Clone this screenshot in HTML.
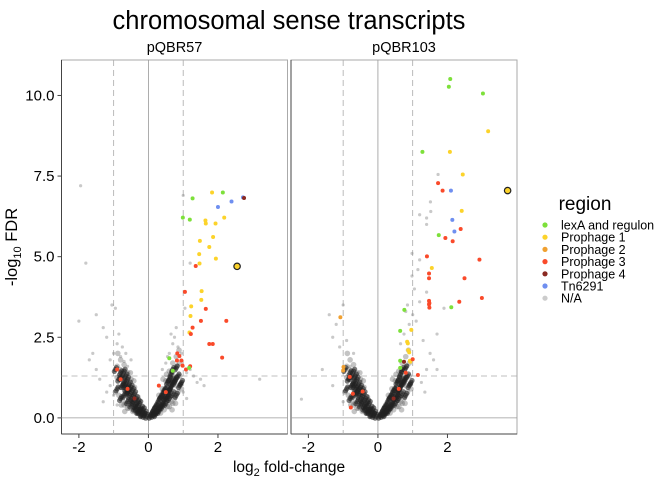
<!DOCTYPE html>
<html><head><meta charset="utf-8"><style>
body{margin:0;background:#fff;}
svg text{font-family:"Liberation Sans",Arial,sans-serif;}
</style></head><body>
<svg id="chart" width="672" height="480" xmlns="http://www.w3.org/2000/svg">
<text x="289" y="29" font-size="25.5" text-anchor="middle" fill="#000">chromosomal sense transcripts</text>
<text x="289" y="472" font-size="15.5" text-anchor="middle">log<tspan font-size="11" dy="4">2</tspan><tspan dy="-4"> fold-change</tspan></text>
<text transform="translate(17,247) rotate(-90)" font-size="16.5" text-anchor="middle">-log<tspan font-size="11" dy="4">10</tspan><tspan dy="-4"> FDR</tspan></text>
<g id="panels"></g>
<g id="legend">
<text x="585" y="210" font-size="19" text-anchor="middle">region</text>
</g>
</svg>
<script>
const categories = ["lexA and regulon","Prophage 1","Prophage 2","Prophage 3","Prophage 4","Tn6291","N/A"];
const catColors = ["#7de03a","#fcd32a","#f0a030","#fa4a2a","#8b2a22","#6f8ff0","#cccccc"];
const panelNames = ["pQBR57","pQBR103"];
const xTicks = [-2,0,2];
const yTicks = [0,2.5,5,7.5,10];
const yTickLabels = ["0.0","2.5","5.0","7.5","10.0"];
// core cloud (x,y) shared
const coreX = [-0.05,0.05,-0.1,0.1,-0.15,0.15,-0.2,0.2,-0.25,0.25,-0.3,0.3,-0.35,0.35,-0.4,0.4,-0.45,0.45,-0.5,0.5,-0.55,0.55,-0.6,0.6,-0.65,0.65,-0.7,0.7,-0.2,0.2,-0.3,0.3,-0.4,0.4,-0.5,0.5,-0.6,0.6,-0.7,0.7,-0.45,0.45,-0.55,0.55,-0.65,0.65,-0.75,0.75,-0.8,0.8,-0.85,0.85,-0.9,0.9,-0.35,0.35,-0.25,0.25,-0.6,0.6,-0.7,0.7,-0.8,0.8,-0.95,0.95,-0.12,0.12,-0.18,0.18,-0.28,0.28,-0.38,0.38,-0.48,0.48,-0.58,0.58,-0.68,0.68,-0.78,0.78];
const coreY = [0.05,0.05,0.15,0.15,0.25,0.25,0.3,0.35,0.45,0.4,0.5,0.55,0.6,0.65,0.75,0.7,0.85,0.85,0.95,0.9,1.05,1.1,1.2,1.2,1.3,1.35,1.45,1.5,0.1,0.1,0.2,0.2,0.3,0.35,0.4,0.45,0.5,0.6,0.7,0.75,0.5,0.55,0.7,0.65,0.9,0.95,1.0,1.1,0.6,0.7,1.2,1.3,0.9,1.0,0.3,0.35,0.2,0.2,0.8,0.85,1.1,1.15,1.4,1.55,1.5,1.1,0.08,0.08,0.12,0.14,0.22,0.26,0.38,0.4,0.6,0.62,0.85,0.8,1.0,1.05,1.25,1.2];
const fillX = [-0.3,0.3,-0.4,0.4,-0.5,0.5,-0.6,0.6,-0.7,0.7,-0.8,0.8,-0.9,0.9,-0.55,0.55,-0.65,0.65,-0.75,0.75,-0.85,0.85,-0.45,0.45,-0.35,0.35,-0.5,0.5,-0.6,0.6,-0.7,0.7,-0.8,0.8,-0.9,0.9,-0.95,0.95,-0.62,0.62,-0.72,0.72,-0.82,0.82,-0.52,0.52,-0.42,0.42,-0.88,0.88,-0.78,0.78,-0.68,0.68];
const fillY = [0.65,0.7,0.95,0.9,1.2,1.15,1.4,1.45,1.65,1.7,1.8,1.9,1.6,1.7,0.3,0.35,0.45,0.5,0.55,0.6,0.7,0.8,0.2,0.25,0.15,0.15,0.7,0.65,0.3,0.35,0.4,0.45,0.95,1.0,1.25,1.3,0.8,0.9,1.0,1.05,1.25,1.3,1.5,1.6,1.4,1.35,1.15,1.2,2.0,2.1,0.4,0.45,0.2,0.25];
const gray1X = [-1.0,-0.9,-1.1,-0.8,-0.75,-1.2,-0.7,-1.05,-0.95,-1.3,-1.5,-1.4,-1.6,-0.85,-0.6,-1.1,-1.2,-0.9,-1.0,-1.8,-2.0,-1.7,-1.95,-1.3,-1.5,0.7,0.75,0.6,0.8,0.85,0.9,0.55,0.65,0.95,1.0,1.1,1.2,1.3,1.4,1.5,1.6,1.0,1.1,3.2,1.0,1.2,1.05,0.5,0.4,-0.5,-0.65];
const gray1Y = [2.0,2.3,1.8,1.9,2.2,2.5,1.75,3.5,3.4,2.8,1.5,1.2,2.0,2.6,1.6,1.0,0.8,0.4,0.7,4.8,3.0,1.8,7.2,0.5,3.2,2.3,2.5,2.0,2.8,2.2,1.9,1.9,2.6,2.0,1.6,1.4,1.5,1.3,1.1,1.2,1.0,0.8,0.6,1.2,6.9,4.8,3.4,1.7,1.5,1.8,2.0];
const gray2X = [-1.3,-1.0,-1.4,-1.2,-0.9,-0.7,-2.2,-1.6,-1.3,-1.1,-0.8,-1.0,0.85,1.1,1.2,0.9,1.3,1.5,1.6,1.4,1.25,1.35,1.7,1.05,1.51,1.4,1.52,1.2,1.4,1.73,0.98,1.2,0.98,1.15,1.4,0.8,1.0,0.75,0.65,1.7,1.9];
const gray2Y = [2.5,3.5,3.2,2.9,2.4,2.0,0.58,1.5,1.0,2.2,1.6,0.5,3.5,3.0,3.6,2.9,2.4,2.0,1.8,1.5,1.1,0.8,1.5,4.0,6.7,6.2,6.4,6.3,6.0,7.55,5.1,4.9,4.4,4.6,3.9,3.3,3.2,2.6,2.3,2.6,3.4];
// colored points: x, y, category index
const col1X = [1.27,1.83,2.14,2.72,2.75,2.39,2.0,0.99,1.19,1.64,1.65,1.93,2.18,1.86,1.48,1.75,1.46,1.94,1.47,1.36,1.05,1.53,1.52,1.23,1.65,1.21,1.51,2.24,1.27,1.18,1.22,1.75,1.85,2.12,0.83,0.89,0.82,0.95,0.6,0.98,1.08,1.2,1.17,0.7,-0.8,-0.6,-0.4,0.5,0.3,-0.9];
const col1Y = [6.81,6.99,6.99,6.84,6.82,6.71,6.54,6.21,6.15,6.12,6.03,6.03,6.21,5.61,5.49,5.3,5.08,4.94,4.79,4.71,3.91,3.93,3.66,3.46,3.38,3.16,3.01,3.01,2.8,2.65,2.6,2.29,2.29,1.87,2.0,1.92,1.78,1.78,1.85,1.62,1.5,1.6,1.55,1.46,1.2,0.9,0.6,0.8,1.0,1.5];
const col1C = [0,1,0,5,4,5,5,0,0,1,1,1,1,1,1,1,1,1,1,3,3,1,1,1,3,1,3,3,3,1,3,3,3,3,3,3,3,3,0,3,3,3,0,0,3,3,4,3,3,3];
const col2X = [2.08,2.04,3.02,3.17,1.28,2.07,2.44,1.73,1.86,2.1,2.41,2.14,2.38,2.2,1.75,1.94,2.15,1.41,2.92,1.55,1.47,1.47,2.49,2.99,1.47,1.48,2.34,2.11,0.76,-1.08,-0.99,-1.0,1.47,1.48,0.64,0.96,0.84,0.86,0.87,0.9,0.92,0.93,0.64,0.64,0.75,1.0,1.15,-0.81,-0.44,-0.78,-0.72,0.6,0.45,0.8];
const col2Y = [10.51,10.27,10.06,8.89,8.25,8.25,7.55,7.28,7.05,7.05,6.42,6.14,5.86,5.78,5.67,5.58,5.48,5.01,4.91,4.65,4.48,4.33,4.33,3.72,3.52,3.42,3.6,3.43,3.35,3.12,1.58,1.47,3.63,3.56,2.7,2.73,2.36,2.31,2.1,2.03,1.77,1.74,1.77,1.55,1.74,1.82,1.33,1.27,0.82,0.32,0.75,0.9,0.6,1.4];
const col2C = [0,0,0,1,0,1,1,3,3,5,1,5,3,5,0,3,3,3,3,1,3,3,3,3,3,3,3,0,0,2,2,2,3,3,0,1,1,1,1,1,1,1,0,0,4,3,3,3,3,3,3,3,4,3];
const circled = [[2.55,4.70],[3.73,7.05]];

const NS="http://www.w3.org/2000/svg";
const svgP=document.getElementById('panels');
const panelLeft=[61.5,291], panelW=226, pTop=60, pBottom=434;
const xMin=-2.5, xMax=4.0, yMin=-0.5, yMax=11.1;
function mk(tag,attrs,parent){const e=document.createElementNS(NS,tag);for(const k in attrs)e.setAttribute(k,attrs[k]);parent.appendChild(e);return e;}
const grays=[[gray1X,gray1Y],[gray2X,gray2Y]];
const cols=[[col1X,col1Y,col1C],[col2X,col2Y,col2C]];
panelNames.forEach((name,p)=>{
  const L=panelLeft[p];
  const sx=v=>L+(v-xMin)/(xMax-xMin)*panelW;
  const sy=v=>pBottom-(v-yMin)/(yMax-yMin)*(pBottom-pTop);
  const g=mk('g',{},svgP);
  
  
  const strip=mk('text',{x:L+panelW/2,y:52,'font-size':14.5,'text-anchor':'middle'},g);
  strip.textContent=name;
  
  
  const box=mk('rect',{x:L,y:pTop,width:panelW,height:pBottom-pTop,fill:'none',stroke:'#aaa','stroke-width':1},g);
  
  
  const ax=mk('line',{x1:L,y1:pTop,x2:L,y2:pBottom,stroke:'#444'},g);
  
  
  const bx=mk('line',{x1:L,y1:pBottom,x2:L+panelW,y2:pBottom,stroke:'#444'},g);
  
  
  const r1=mk('line',{x1:sx(0),y1:pTop,x2:sx(0),y2:pBottom,stroke:'#999','stroke-width':0.8},g);
  
  
  const r2=mk('line',{x1:L,y1:sy(0),x2:L+panelW,y2:sy(0),stroke:'#999','stroke-width':0.8},g);
  
  
  [-1,1].forEach(v=>{const d=mk('line',{x1:sx(v),y1:pTop,x2:sx(v),y2:pBottom,stroke:'#aaa','stroke-dasharray':'6,4','stroke-width':0.8},g);
    
    });
  const h=mk('line',{x1:L,y1:sy(1.3),x2:L+panelW,y2:sy(1.3),stroke:'#aaa','stroke-dasharray':'6,4','stroke-width':0.8},g);
  
  
  xTicks.forEach(t=>{
    mk('line',{x1:sx(t),y1:pBottom,x2:sx(t),y2:pBottom+4,stroke:'#444'},g);
    const tx=mk('text',{x:sx(t),y:pBottom+18,'font-size':15,'text-anchor':'middle'},g);
    tx.textContent=t;
    
    
  });
  if(p===0) yTicks.forEach((t,i)=>{
    mk('line',{x1:L-4,y1:sy(t),x2:L,y2:sy(t),stroke:'#444'},g);
    const ty=mk('text',{x:L-7,y:sy(t)+5,'font-size':15,'text-anchor':'end'},g);
    ty.textContent=yTickLabels[i];
    
    
  });
  fillX.forEach((x,i)=>{
    const c=mk('circle',{cx:sx(x),cy:sy(fillY[i]),r:2.8,fill:'#555','fill-opacity':0.35},g);
    
    
  });
  coreX.forEach((x,i)=>{[0,0.03,-0.03].forEach(o=>{
    const c=mk('circle',{cx:sx(x+o),cy:sy(coreY[i]+o*2),r:2.6,fill:'#222','fill-opacity':0.6},g);
    
    });
  });
  const [gx,gy]=grays[p];
  gx.forEach((x,i)=>{const c=mk('circle',{cx:sx(x),cy:sy(gy[i]),r:1.6,fill:'#888','fill-opacity':0.45},g);
    
    });
  const [cx,cy,cc]=cols[p];
  cx.forEach((x,i)=>{const c=mk('circle',{cx:sx(x),cy:sy(cy[i]),r:2,fill:catColors[cc[i]]},g);
    
    });
  const ci=circled[p];
  const cc2=mk('circle',{cx:sx(ci[0]),cy:sy(ci[1]),r:3.2,fill:'#fcd32a',stroke:'#222','stroke-width':1.2},g);
  
  
});
const lg=document.getElementById('legend');
categories.forEach((c,i)=>{
  const y=225+i*12.2;
  const d=mk('circle',{cx:545,cy:y,r:2.6,fill:catColors[i]},lg);
  
  
  const t=mk('text',{x:561,y:y+4.5,'font-size':12.5},lg);
  t.textContent=c;
  
  
});
</script>
</body></html>
